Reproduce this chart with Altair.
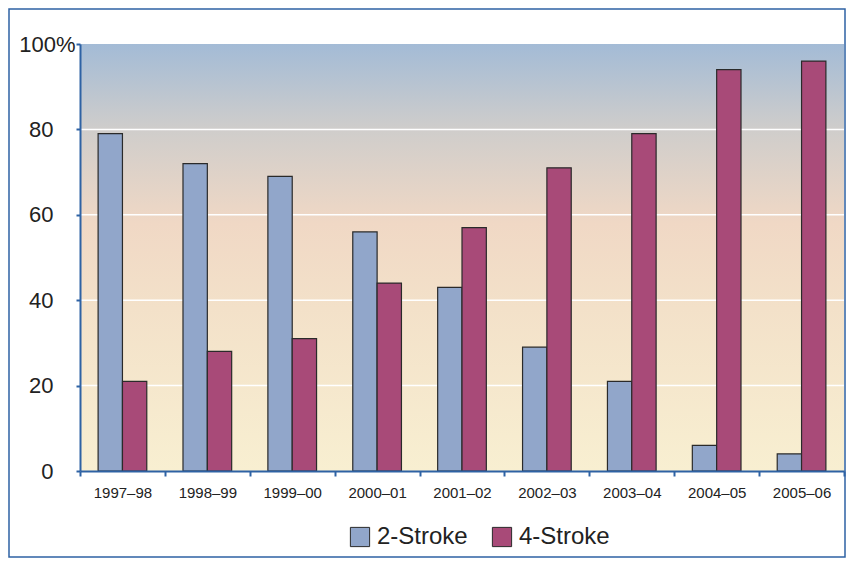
import altair as alt
import pandas as pd

seasons = ["1997–98", "1998–99", "1999–00", "2000–01", "2001–02",
           "2002–03", "2003–04", "2004–05", "2005–06"]
types = ["2-Stroke", "4-Stroke"]
two_stroke = [79, 72, 69, 56, 43, 29, 21, 6, 4]
four_stroke = [21, 28, 31, 44, 57, 71, 79, 94, 96]
y_ticks = [0, 20, 40, 60, 80, 100]
grid_vals = [20, 40, 60, 80]

BLUE = "#2e62a4"
FONT = "Liberation Sans"
W, H = 764, 427

rows = []
for s, a, b in zip(seasons, two_stroke, four_stroke):
    rows.append({"season": s, "type": types[0], "value": a})
    rows.append({"season": s, "type": types[1], "value": b})
df = pd.DataFrame(rows)

y_axis = alt.Axis(
    title=None, grid=False, values=y_ticks, zindex=1,
    labelExpr="datum.value == 100 ? '100%' : datum.label",
    domainColor=BLUE, domainWidth=2,
    tickColor=BLUE, tickWidth=2, tickSize=4,
    labelFont=FONT, labelFontSize=22, labelColor="#222222",
    labelPadding={"condition": {"test": "datum.value == 100", "value": 1}, "value": 23},
)
y_scale = alt.Scale(domain=[0, 100], nice=False)

bg = alt.Chart(pd.DataFrame({"a": [0]})).mark_rect(
    color=alt.LinearGradient(
        gradient="linear", x1=0, x2=0, y1=0, y2=1,
        stops=[
            alt.GradientStop(offset=0.0, color="#a3bbd6"),
            alt.GradientStop(offset=0.2, color="#cfcdcb"),
            alt.GradientStop(offset=0.42, color="#f0d8c5"),
            alt.GradientStop(offset=0.62, color="#f3e1c9"),
            alt.GradientStop(offset=1.0, color="#f8efd1"),
        ],
    )
).encode(x=alt.value(0), x2=alt.value(W), y=alt.value(0), y2=alt.value(H))

grid = alt.Chart(pd.DataFrame({"value": grid_vals})).mark_rule(
    color="white", strokeWidth=1.5
).encode(y=alt.Y("value:Q", scale=y_scale, axis=y_axis))

bars = alt.Chart(df).mark_bar(stroke="#2a2a2a", strokeWidth=1.2).encode(
    x=alt.X(
        "season:N", sort=seasons,
        scale=alt.Scale(paddingInner=0, paddingOuter=0),
        axis=alt.Axis(
            title=None, labelAngle=0, grid=False, zindex=1,
            domainColor=BLUE, domainWidth=2,
            tickColor=BLUE, tickWidth=2, tickSize=5, tickBand="extent",
            labelFont=FONT, labelFontSize=15, labelColor="#222222",
            labelPadding=9, labelBaseline="top",
        ),
    ),
    xOffset=alt.XOffset(
        "type:N", sort=types,
        scale=alt.Scale(paddingInner=0, paddingOuter=0.744),
    ),
    y=alt.Y("value:Q", scale=y_scale, axis=y_axis),
    color=alt.Color(
        "type:N", sort=types,
        scale=alt.Scale(domain=types, range=["#91a6ca", "#a84a78"]),
        legend=alt.Legend(
            title=None, orient="none", legendX=268, legendY=481,
            direction="horizontal", symbolType="square", symbolSize=370,
            symbolStrokeColor="#2a2a2a", symbolStrokeWidth=1,
            labelFont=FONT, labelFontSize=24, labelColor="#222222",
            labelOffset=5, columnPadding=22,
        ),
    ),
)

frame = alt.Chart(pd.DataFrame({"a": [0]})).mark_rect(
    fillOpacity=0, stroke=BLUE, strokeWidth=1.5
).encode(x=alt.value(-71), x2=alt.value(W + 1), y=alt.value(-35), y2=alt.value(H + 86))

chart = alt.layer(bg, grid, bars, frame).properties(
    width=W, height=H,
    padding={"left": 72, "top": 36, "right": 2, "bottom": 87},
    autosize=alt.AutoSizeParams(type="none"),
    background="white",
).configure_view(stroke=None)

chart.save("out.html", embed_options={"renderer": "svg", "actions": False})
